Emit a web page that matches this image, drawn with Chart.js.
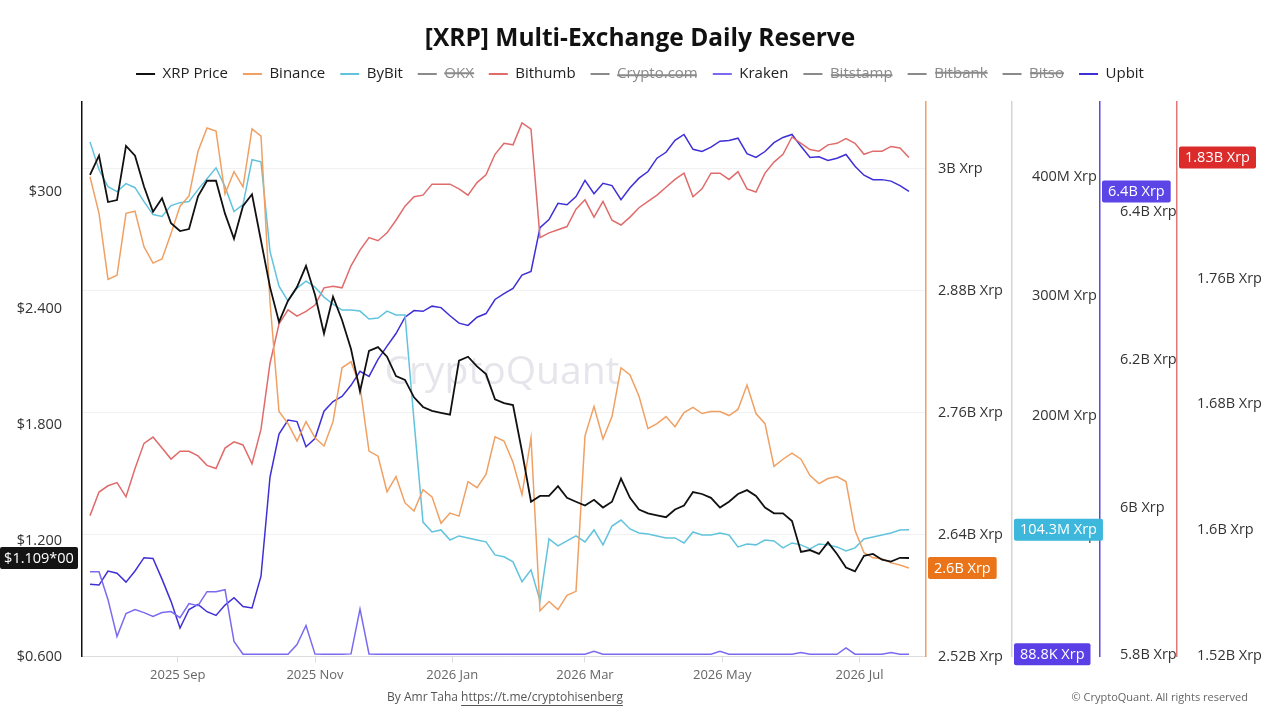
<!DOCTYPE html>
<html>
<head>
<meta charset="utf-8">
<title>[XRP] Multi-Exchange Daily Reserve</title>
<script src="https://cdn.jsdelivr.net/npm/chart.js@4.4.1/dist/chart.umd.min.js"></script>
<style>
    html, body { margin: 0; padding: 0; background: #fff; }
    #wrap { width: 1280px; height: 720px; position: relative; }
</style>
</head>
<body>
<div id="wrap"><canvas id="reserveChart" width="1280" height="720"></canvas></div>
<script>
/* Dates: one point every 4 days */
const startDate = "2025-07-24";
const stepDays = 4;

/* X axis month ticks */
const xTickDates = ["2025-09-01", "2025-11-01", "2026-01-01", "2026-03-01", "2026-05-01", "2026-07-01"];
const xTickLabels = ["2025 Sep", "2025 Nov", "2026 Jan", "2026 Mar", "2026 May", "2026 Jul"];

/* Y axis ticks */
const priceTicks = [0.6, 1.2, 1.8, 2.4, 3.0];
const priceTickLabels = ["$0.600", "$1.200", "$1.800", "$2.400", "$300"];
const binanceTicks = [2.52, 2.64, 2.76, 2.88, 3.0];   // B Xrp
const walletTicks = [0, 100, 200, 300, 400];          // M Xrp
const upbitTicks = [5.8, 6.0, 6.2, 6.4];              // B Xrp
const bithumbTicks = [1.52, 1.6, 1.68, 1.76];         // B Xrp

/* XRP price, USD */
const priceData = [3.09, 3.19, 2.95, 2.96, 3.24, 3.19, 3.03, 2.90, 2.97, 2.84,
    2.80, 2.81, 2.98, 3.06, 3.06, 2.89, 2.76, 2.93, 2.99, 2.75,
    2.51, 2.33, 2.44, 2.51, 2.62, 2.47, 2.27, 2.46, 2.34, 2.19,
    1.97, 2.18, 2.20, 2.15, 2.05, 2.03, 1.94, 1.89, 1.87, 1.86,
    1.85, 2.13, 2.15, 2.10, 2.06, 1.93, 1.91, 1.90, 1.66, 1.40,
    1.43, 1.43, 1.48, 1.42, 1.40, 1.38, 1.41, 1.37, 1.40, 1.52,
    1.42, 1.36, 1.34, 1.33, 1.32, 1.36, 1.38, 1.45, 1.44, 1.42,
    1.37, 1.40, 1.44, 1.46, 1.43, 1.37, 1.34, 1.34, 1.30, 1.14,
    1.15, 1.13, 1.19, 1.13, 1.06, 1.04, 1.12, 1.13, 1.10, 1.09,
    1.11, 1.109];

/* Binance reserve, B Xrp */
const binanceData = [2.992, 2.956, 2.891, 2.895, 2.956, 2.958, 2.923, 2.907, 2.911, 2.936,
    2.963, 2.973, 3.017, 3.040, 3.037, 2.975, 2.997, 2.982, 3.039, 3.032,
    2.869, 2.761, 2.749, 2.732, 2.751, 2.735, 2.727, 2.751, 2.804, 2.810,
    2.786, 2.722, 2.717, 2.682, 2.697, 2.671, 2.663, 2.684, 2.677, 2.651,
    2.661, 2.658, 2.692, 2.686, 2.699, 2.736, 2.732, 2.711, 2.679, 2.735,
    2.565, 2.574, 2.566, 2.580, 2.584, 2.737, 2.766, 2.734, 2.756, 2.804,
    2.797, 2.776, 2.744, 2.749, 2.756, 2.746, 2.760, 2.765, 2.759, 2.761,
    2.761, 2.757, 2.763, 2.787, 2.759, 2.749, 2.707, 2.714, 2.720, 2.714,
    2.698, 2.690, 2.695, 2.697, 2.692, 2.644, 2.622, 2.617, 2.616, 2.612,
    2.610, 2.607];

/* ByBit reserve, M Xrp */
const bybitData = [429.2, 405.8, 391.7, 387.5, 394.2, 390.8, 379.2, 368.3, 366.7, 375.8,
    378.3, 379.2, 389.2, 398.3, 407.5, 391.7, 370.8, 376.7, 414.2, 412.5,
    337.5, 308.3, 295.8, 306.7, 312.5, 307.5, 299.2, 293.3, 288.3, 288.3,
    287.5, 280.8, 281.7, 287.5, 284.2, 284.2, 195.8, 110.8, 102.5, 104.2,
    95.8, 99.2, 97.5, 95.8, 94.2, 83.3, 81.7, 77.5, 60.8, 70.8,
    45.0, 96.7, 90.8, 95.0, 99.2, 94.2, 104.2, 91.7, 107.5, 112.5,
    105.0, 101.7, 100.8, 99.2, 97.5, 97.5, 93.3, 102.5, 100.0, 100.0,
    101.7, 100.0, 90.0, 92.5, 91.7, 95.8, 95.0, 89.2, 93.3, 91.7,
    88.3, 92.5, 91.7, 90.0, 86.7, 89.2, 96.7, 98.3, 100.0, 101.7,
    104.2, 104.3];

/* Kraken reserve, M Xrp */
const krakenData = [69.2, 69.2, 45.8, 15.0, 34.2, 37.5, 35.0, 31.7, 35.0, 35.8,
    30.8, 42.5, 40.8, 52.5, 52.5, 54.2, 10.8, 0.2, 0.1, 0.1,
    0.2, 0.1, 0.1, 8.3, 24.2, 0.2, 0.1, 0.1, 0.1, 0.4,
    38.0, 0.3, 0.1, 0.1, 0.2, 0.1, 0.1, 0.1, 0.1, 0.2,
    0.1, 0.1, 0.1, 0.1, 0.1, 0.2, 0.1, 0.1, 0.1, 0.1,
    0.1, 0.1, 0.2, 0.1, 0.1, 0.1, 2.5, 0.2, 0.1, 0.1,
    0.1, 0.1, 0.1, 0.2, 0.1, 0.1, 0.1, 0.1, 0.1, 0.2,
    2.5, 0.2, 0.1, 0.1, 0.1, 0.1, 0.1, 0.1, 0.2, 1.5,
    0.1, 0.1, 0.1, 0.1, 5.5, 0.2, 0.1, 0.1, 0.1, 1.5,
    0.1, 0.0888];

/* Upbit reserve, B Xrp */
const upbitData = [5.896, 5.895, 5.914, 5.911, 5.899, 5.914, 5.932, 5.931, 5.903, 5.873,
    5.837, 5.862, 5.869, 5.859, 5.854, 5.868, 5.878, 5.866, 5.864, 5.907,
    6.041, 6.099, 6.118, 6.116, 6.082, 6.093, 6.130, 6.143, 6.150, 6.165,
    6.184, 6.177, 6.200, 6.218, 6.235, 6.257, 6.266, 6.265, 6.272, 6.270,
    6.259, 6.249, 6.246, 6.257, 6.262, 6.281, 6.289, 6.296, 6.314, 6.319,
    6.378, 6.389, 6.411, 6.409, 6.420, 6.442, 6.424, 6.438, 6.435, 6.416,
    6.432, 6.445, 6.454, 6.472, 6.480, 6.496, 6.504, 6.484, 6.481, 6.487,
    6.495, 6.496, 6.499, 6.478, 6.473, 6.481, 6.493, 6.500, 6.504, 6.488,
    6.473, 6.474, 6.469, 6.472, 6.477, 6.461, 6.449, 6.443, 6.443, 6.441,
    6.435, 6.427];

/* Bithumb reserve, B Xrp */
const bithumbData = [1.609, 1.624, 1.628, 1.630, 1.621, 1.639, 1.655, 1.659, 1.652, 1.645,
    1.650, 1.650, 1.647, 1.641, 1.639, 1.652, 1.656, 1.654, 1.642, 1.664,
    1.706, 1.731, 1.740, 1.736, 1.739, 1.743, 1.754, 1.755, 1.754, 1.768,
    1.778, 1.786, 1.784, 1.789, 1.797, 1.806, 1.812, 1.813, 1.820, 1.820,
    1.820, 1.817, 1.813, 1.821, 1.826, 1.839, 1.846, 1.845, 1.859, 1.855,
    1.786, 1.789, 1.791, 1.793, 1.804, 1.810, 1.799, 1.809, 1.797, 1.794,
    1.799, 1.805, 1.809, 1.813, 1.818, 1.823, 1.827, 1.812, 1.817, 1.827,
    1.827, 1.823, 1.828, 1.817, 1.815, 1.827, 1.834, 1.839, 1.850, 1.846,
    1.842, 1.841, 1.845, 1.846, 1.849, 1.846, 1.839, 1.841, 1.841, 1.844,
    1.843, 1.837];

/* Last value badges */
const badgeTexts = ["$1.109*00", "2.6B Xrp", "104.3M Xrp", "88.8K Xrp", "6.4B Xrp", "1.83B Xrp"];

const FONT = "'Open Sans', 'Noto Sans', sans-serif";

function dayOf(str) {
    return (Date.parse(str) - Date.parse(startDate)) / 86400000;
}

const days = priceData.map((_, i) => i * stepDays);
const xTickDays = xTickDates.map(dayOf);

function pts(arr) {
    return arr.map((v, i) => ({ x: days[i], y: v }));
}

function bLabel(v) {
    return (+v.toFixed(2)) + "B Xrp";
}

function line(label, data, color, axis, width) {
    return {
        label: label,
        data: pts(data),
        borderColor: color,
        backgroundColor: color,
        borderWidth: width || 1.5,
        pointRadius: 0,
        tension: 0,
        yAxisID: axis
    };
}

function hiddenLine(label) {
    return {
        label: label,
        data: [],
        borderColor: "#8a8a8a",
        backgroundColor: "#8a8a8a",
        hidden: true,
        pointRadius: 0,
        yAxisID: "yWallet"
    };
}

function fixTicks(values) {
    return scale => { scale.ticks = values.map(v => ({ value: v })); };
}

function fixWidth(w) {
    return scale => { scale.width = w; };
}

const tickFont = { family: FONT, size: 14.5 };

/* Watermark behind the lines */
const watermark = {
    id: "watermark",
    beforeDatasetsDraw(chart) {
        const c = chart.ctx;
        c.save();
        c.font = "500 39px " + FONT;
        c.fillStyle = "rgba(170,170,188,0.3)";
        c.textAlign = "center";
        c.textBaseline = "alphabetic";
        c.fillText("CryptoQuant", 502, 384);
        c.restore();
    }
};

/* Last value badges + footer */
const badges = {
    id: "badges",
    afterDraw(chart) {
        const c = chart.ctx;
        const s = chart.scales;
        const items = [
            { scale: s.yPrice, v: priceData[priceData.length - 1], bg: "#141414", left: true },
            { scale: s.yBinance, v: binanceData[binanceData.length - 1], bg: "#ea7419" },
            { scale: s.yWallet, v: bybitData[bybitData.length - 1], bg: "#3db7db" },
            { scale: s.yWallet, v: krakenData[krakenData.length - 1], bg: "#5a3fe6" },
            { scale: s.yUpbit, v: upbitData[upbitData.length - 1], bg: "#5b45e6" },
            { scale: s.yBithumb, v: bithumbData[bithumbData.length - 1], bg: "#dc2b2b" }
        ];
        c.save();
        c.font = "14.5px " + FONT;
        c.textBaseline = "middle";
        items.forEach((b, i) => {
            const txt = badgeTexts[i];
            const y = b.scale.getPixelForValue(b.v);
            const w = b.left ? 78 : c.measureText(txt).width + 12;
            const x = b.left ? 0 : b.scale.left + 2;
            c.fillStyle = b.bg;
            c.beginPath();
            c.roundRect(x, y - 11, w, 22, 2);
            c.fill();
            c.fillStyle = "#fff";
            c.textAlign = "center";
            c.fillText(txt, x + w / 2, y + 0.5);
        });

        /* footer */
        c.font = "12px " + FONT;
        c.fillStyle = "#555";
        c.textAlign = "left";
        const by = "By Amr Taha ";
        const link = "https://t.me/cryptohisenberg";
        const total = c.measureText(by + link).width;
        const fx = 505 - total / 2;
        c.fillText(by, fx, 698);
        const lx = fx + c.measureText(by).width;
        c.fillText(link, lx, 698);
        c.fillRect(lx, 705, c.measureText(link).width, 1);

        c.font = "11px " + FONT;
        c.fillStyle = "#666";
        c.textAlign = "right";
        c.fillText("\u00A9 CryptoQuant. All rights reserved", 1248, 698);
        c.restore();
    }
};

const ctx = document.getElementById("reserveChart");

new Chart(ctx, {
    type: "line",
    data: {
        datasets: [
            line("XRP Price", priceData, "#111111", "yPrice", 1.8),
            line("Binance", binanceData, "#f0a062", "yBinance"),
            line("ByBit", bybitData, "#62c3dd", "yWallet"),
            hiddenLine("OKX"),
            line("Bithumb", bithumbData, "#e06b6b", "yBithumb"),
            hiddenLine("Crypto.com"),
            line("Kraken", krakenData, "#7a6af0", "yWallet"),
            hiddenLine("Bitstamp"),
            hiddenLine("Bitbank"),
            hiddenLine("Bitso"),
            line("Upbit", upbitData, "#3f2fd6", "yUpbit")
        ]
    },
    options: {
        responsive: false,
        animation: false,
        devicePixelRatio: 1,
        layout: { padding: { top: 0, bottom: 32, left: 0, right: 0 } },
        plugins: {
            title: {
                display: true,
                text: "[XRP] Multi-Exchange Daily Reserve",
                color: "#111",
                font: { family: FONT, size: 24.5, weight: "bold", lineHeight: 1 },
                padding: { top: 27, bottom: 0 }
            },
            /* empty spacer between legend and plot */
            subtitle: {
                display: true,
                text: " ",
                weight: 500,
                font: { size: 10, lineHeight: 1 },
                padding: 0
            },
            legend: {
                display: true,
                position: "top",
                labels: {
                    boxWidth: 19,
                    boxHeight: 2,
                    padding: 15,
                    font: { family: FONT, size: 15 },
                    color: "#222",
                    generateLabels(chart) {
                        return chart.data.datasets.map((d, i) => {
                            const hid = !chart.isDatasetVisible(i);
                            return {
                                text: d.label,
                                fillStyle: d.borderColor,
                                strokeStyle: d.borderColor,
                                lineWidth: 0,
                                hidden: hid,
                                fontColor: hid ? "#8a8a8a" : "#222",
                                datasetIndex: i
                            };
                        });
                    }
                },
                onClick: () => {}
            },
            tooltip: { enabled: false }
        },
        scales: {
            x: {
                type: "linear",
                min: -3.56,
                max: 371.56,
                afterBuildTicks: fixTicks(xTickDays),
                grid: { drawOnChartArea: false, drawTicks: true, tickLength: 6, color: "#dddddd" },
                border: { color: "#dddddd" },
                ticks: {
                    autoSkip: false,
                    maxRotation: 0,
                    padding: 5,
                    color: "#666",
                    font: { family: FONT, size: 13 },
                    callback: (v, i) => xTickLabels[i]
                }
            },
            yPrice: {
                position: "left",
                min: 0.6,
                max: 3.47,
                afterBuildTicks: fixTicks(priceTicks),
                afterFit: fixWidth(82),
                grid: { display: false },
                border: { color: "#111", width: 1.5 },
                ticks: {
                    padding: 12,
                    color: "#333",
                    font: tickFont,
                    callback: (v, i) => priceTickLabels[i]
                }
            },
            yBinance: {
                position: "right",
                min: 2.52,
                max: 3.066,
                afterBuildTicks: fixTicks(binanceTicks),
                afterFit: fixWidth(86),
                grid: { drawTicks: false, color: "#f1f1f1" },
                border: { color: "#f0a062", width: 1.5 },
                ticks: { padding: 12, color: "#333", font: tickFont, callback: bLabel }
            },
            yWallet: {
                position: "right",
                min: -1.7,
                max: 463,
                afterBuildTicks: fixTicks(walletTicks),
                afterFit: fixWidth(88),
                grid: { display: false },
                border: { color: "#d4d4d4", width: 1.5 },
                ticks: { padding: 12, color: "#333", font: tickFont, callback: v => v + "M Xrp" }
            },
            yUpbit: {
                position: "right",
                min: 5.7986,
                max: 6.5486,
                afterBuildTicks: fixTicks(upbitTicks),
                afterFit: fixWidth(77),
                grid: { display: false },
                border: { color: "#5a4ae0", width: 1.5 },
                ticks: { padding: 12, color: "#333", font: tickFont, callback: bLabel }
            },
            yBithumb: {
                position: "right",
                min: 1.5194,
                max: 1.8726,
                afterBuildTicks: fixTicks(bithumbTicks),
                afterFit: fixWidth(103),
                grid: { display: false },
                border: { color: "#e07878", width: 1.5 },
                ticks: { padding: 12, color: "#333", font: tickFont, callback: bLabel }
            }
        }
    },
    plugins: [watermark, badges]
});
</script>
</body>
</html>
